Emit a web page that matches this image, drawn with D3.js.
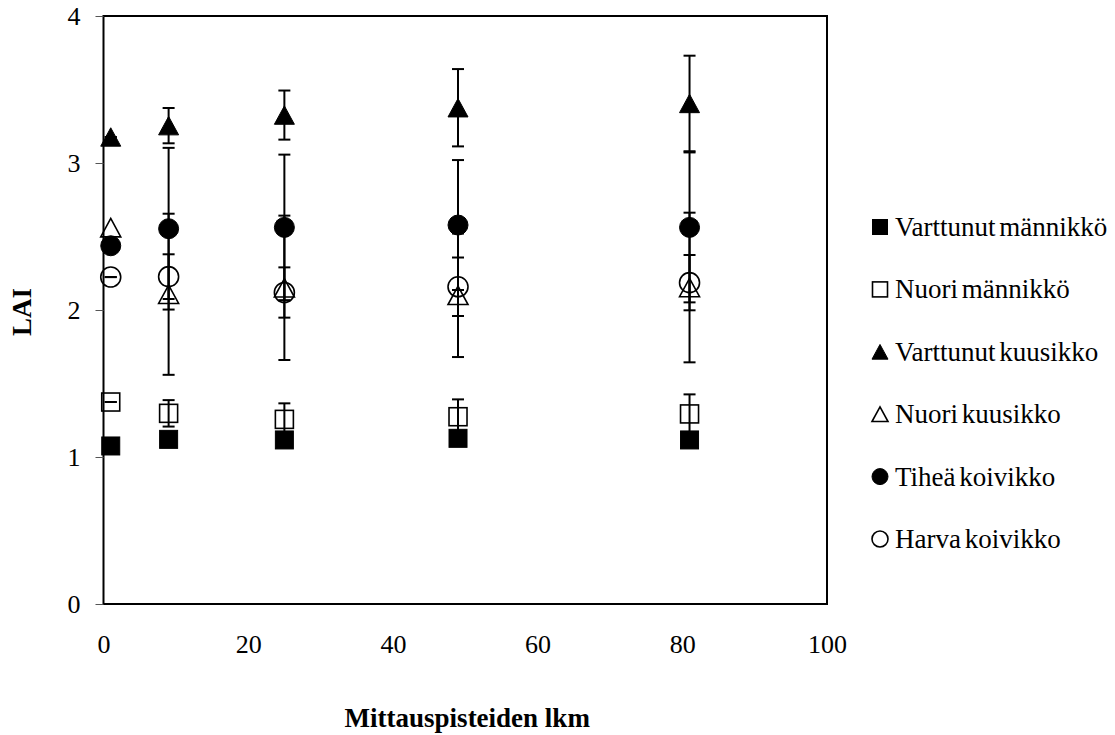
<!DOCTYPE html>
<html>
<head>
<meta charset="utf-8">
<script src="https://cdn.jsdelivr.net/npm/d3@7/dist/d3.min.js"></script>
<style>
  html, body { margin: 0; padding: 0; background: #fff; }
  svg, svg text { font-family: "Times New Roman", "Liberation Serif", "DejaVu Serif", Times, serif !important; }
</style>
</head>
<body>
<svg id="chart" width="1115" height="735"></svg>
<script>
// Number of measurement points per plot
const pointCounts = [1, 9, 25, 49, 81];

// Mean LAI per stand type
const varttunutMannikko = [1.075, 1.12, 1.116, 1.127, 1.116];
const nuoriMannikko     = [1.374, 1.297, 1.256, 1.274, 1.293];
const varttunutKuusikko = [3.177, 3.254, 3.326, 3.376, 3.405];
const nuoriKuusikko     = [2.56, 2.107, 2.151, 2.10, 2.153];
const tiheaKoivikko     = [2.437, 2.553, 2.562, 2.578, 2.562];
const harvaKoivikko     = [2.224, 2.227, 2.119, 2.158, 2.186];

// Standard deviations (null = no error bar drawn)
const errVarttunutMannikko = [0, 0.04, 0.04, 0.04, 0.04];
const errNuoriMannikko     = [0, 0.09, 0.109, 0.118, 0.133];
const errVarttunutKuusikko = [0, 0.12, 0.167, 0.263, 0.325];
const errNuoriKuusikko     = [null, 0.548, 0.491, 0.42, 0.509];
const errTiheaKoivikko     = [0, 0.55, 0.495, 0.442, 0.51];
const errHarvaKoivikko     = [0, 0.152, 0.171, 0.199, 0.188];

const seriesNames = ["Varttunut männikkö", "Nuori männikkö", "Varttunut kuusikko",
                     "Nuori kuusikko", "Tiheä koivikko", "Harva koivikko"];
const xTicks = [0, 20, 40, 60, 80, 100];
const yTicks = [0, 1, 2, 3, 4];
const xTitle = "Mittauspisteiden lkm";
const yTitle = "LAI";

const series = [
  { name: seriesNames[0], values: varttunutMannikko, err: errVarttunutMannikko, shape: "square",   filled: true  },
  { name: seriesNames[1], values: nuoriMannikko,     err: errNuoriMannikko,     shape: "square",   filled: false },
  { name: seriesNames[2], values: varttunutKuusikko, err: errVarttunutKuusikko, shape: "triangle", filled: true  },
  { name: seriesNames[3], values: nuoriKuusikko,     err: errNuoriKuusikko,     shape: "triangle", filled: false },
  { name: seriesNames[4], values: tiheaKoivikko,     err: errTiheaKoivikko,     shape: "circle",   filled: true  },
  { name: seriesNames[5], values: harvaKoivikko,     err: errHarvaKoivikko,     shape: "circle",   filled: false }
];

const FONT = "'Times New Roman', 'Liberation Serif', serif";
const svg = d3.select("#chart");
const plot = { left: 103.5, right: 827, top: 16, bottom: 604 };

const x = d3.scaleLinear().domain([0, 100]).range([plot.left, plot.right]);
const y = d3.scaleLinear().domain([0, 4]).range([plot.bottom, plot.top]);

// Frame around the plot area
svg.append("rect")
  .attr("x", plot.left).attr("y", plot.top)
  .attr("width", plot.right - plot.left).attr("height", plot.bottom - plot.top)
  .attr("fill", "none").attr("stroke", "#000").attr("stroke-width", 2);

// Y axis
const yAxis = svg.append("g")
  .attr("transform", `translate(${plot.left},0)`)
  .call(d3.axisLeft(y).tickValues(yTicks).tickFormat(d3.format("d")).tickSize(8).tickPadding(15));
yAxis.attr("font-family", FONT);
yAxis.select(".domain").remove();
yAxis.selectAll(".tick line").attr("stroke", "#555").attr("stroke-width", 1);
yAxis.selectAll(".tick text").attr("font-size", 26).attr("fill", "#000");

// X axis (labels only)
const xAxis = svg.append("g")
  .attr("transform", `translate(0,${plot.bottom})`)
  .call(d3.axisBottom(x).tickValues(xTicks).tickFormat(d3.format("d")).tickSize(0).tickPadding(31));
xAxis.attr("font-family", FONT);
xAxis.select(".domain").remove();
xAxis.selectAll(".tick line").remove();
xAxis.selectAll(".tick text").attr("font-size", 26).attr("fill", "#000");

// Axis titles
svg.append("text")
  .attr("x", (plot.left + plot.right) / 2 + 2).attr("y", 727)
  .attr("text-anchor", "middle").attr("font-size", 27).attr("font-weight", "bold")
  .attr("font-family", FONT)
  .text(xTitle);
svg.append("text")
  .attr("transform", `translate(31,312) rotate(-90)`)
  .attr("text-anchor", "middle").attr("font-size", 27).attr("font-weight", "bold")
  .attr("font-family", FONT)
  .text(yTitle);

// Marker drawing helper
function drawMarker(g, shape, filled, cx, cy, size) {
  const fill = filled ? "#000" : "none";
  const sw = filled ? 1 : 1.6;
  if (shape === "square") {
    g.append("rect")
      .attr("x", cx - size / 2).attr("y", cy - size / 2)
      .attr("width", size).attr("height", size)
      .attr("fill", fill).attr("stroke", "#000").attr("stroke-width", sw);
  } else if (shape === "circle") {
    g.append("circle")
      .attr("cx", cx).attr("cy", cy).attr("r", size / 2)
      .attr("fill", fill).attr("stroke", "#000").attr("stroke-width", sw);
  } else {
    const h = size * 0.92;
    const pts = [[cx, cy - h / 2], [cx + size / 2, cy + h / 2], [cx - size / 2, cy + h / 2]];
    g.append("path")
      .attr("d", d3.line()(pts) + "Z")
      .attr("fill", fill).attr("stroke", "#000").attr("stroke-width", sw)
      .attr("stroke-linejoin", "miter");
  }
}

// Series: markers first, error bars on top
const capHalf = 6;
series.forEach(s => {
  const g = svg.append("g").attr("class", "series");
  s.values.forEach((v, i) => {
    drawMarker(g, s.shape, s.filled, x(pointCounts[i]), y(v), s.shape === "square" ? 18 : 20);
  });
});
series.forEach(s => {
  const g = svg.append("g").attr("class", "errorbars");
  s.values.forEach((v, i) => {
    const e = s.err[i];
    if (e === null) return;
    const cx = x(pointCounts[i]);
    const yHi = y(v + e), yLo = y(v - e);
    g.append("line").attr("x1", cx).attr("x2", cx).attr("y1", yHi).attr("y2", yLo)
      .attr("stroke", "#000").attr("stroke-width", 2);
    [yHi, yLo].forEach(yy => {
      g.append("line").attr("x1", cx - capHalf).attr("x2", cx + capHalf)
        .attr("y1", yy).attr("y2", yy).attr("stroke", "#000").attr("stroke-width", 2);
    });
  });
});

// Legend
const legend = svg.append("g").attr("class", "legend").attr("font-family", FONT);
const legendX = 880, legendTop = 227, legendStep = 62.4;
series.forEach((s, i) => {
  const cy = legendTop + i * legendStep;
  drawMarker(legend, s.shape, s.filled, legendX, cy, s.shape === "square" ? 15 : 16);
  legend.append("text")
    .attr("x", 895).attr("y", cy + 9)
    .attr("font-size", 27).attr("fill", "#000")
    .attr("word-spacing", -3)
    .text(s.name);
});
</script>
</body>
</html>
